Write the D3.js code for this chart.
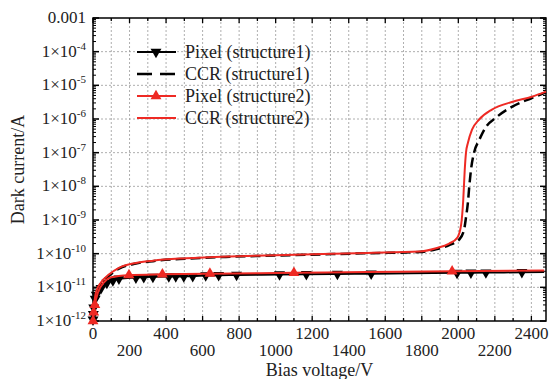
<!DOCTYPE html>
<html>
<head>
<meta charset="utf-8">
<script src="https://cdn.jsdelivr.net/npm/d3@7"></script>
<style>
body { margin: 0; background: #fff; }
svg { display: block; font-family: "Liberation Serif", "Times New Roman", serif; }
</style>
</head>
<body>
<div id="chart-area"></div>
<script>
// Pixel (structure1) - black, down triangles
var pix1V = [0, 2, 4, 12, 18, 44, 76, 109, 142, 235, 278, 328, 415, 453, 497, 546, 617, 688, 786, 1021, 1168, 1338, 1523, 1993, 2069, 2151, 2348, 2470];
var pix1I = [1.1e-12, 1.6e-12, 2.5e-12, 4.5e-12, 6e-12, 9.5e-12, 1.35e-11, 1.6e-11, 1.8e-11, 1.95e-11, 2.0e-11, 2.05e-11, 2.1e-11, 2.1e-11, 2.12e-11, 2.15e-11, 2.25e-11, 2.3e-11, 2.32e-11, 2.4e-11, 2.45e-11, 2.5e-11, 2.55e-11, 2.7e-11, 2.72e-11, 2.75e-11, 2.8e-11, 2.85e-11];

// CCR (structure1) - black dashed
var ccr1V = [0, 5, 16, 44, 87, 142, 235, 328, 508, 750, 1000, 1500, 1785, 1878, 1950, 2004, 2031, 2042, 2053, 2060, 2069, 2086, 2113, 2151, 2206, 2293, 2402, 2480];
var ccr1I = [1e-12, 2.2e-12, 6e-12, 1.3e-11, 2.2e-11, 3.6e-11, 5.1e-11, 6e-11, 7.1e-11, 8.1e-11, 8.8e-11, 1.03e-10, 1.12e-10, 1.35e-10, 1.8e-10, 2.6e-10, 5e-10, 1.2e-9, 3.5e-9, 1e-8, 3e-8, 1e-7, 2.3e-7, 5.8e-7, 1.1e-6, 2.3e-6, 4.2e-6, 6.2e-6];

// Pixel (structure2) - red, up triangles
var pix2V = [0, 4, 10, 27, 60, 100, 197, 380, 640, 1100, 1500, 1966, 2470];
var pix2I = [1e-12, 1.8e-12, 3e-12, 7e-12, 1.4e-11, 2e-11, 2.3e-11, 2.45e-11, 2.55e-11, 2.7e-11, 2.85e-11, 3e-11, 3.15e-11];
var pix2Marks = [0, 4, 10, 197, 380, 640, 1100, 1966];

// CCR (structure2) - red solid
var ccr2V = [0, 5, 16, 44, 87, 142, 235, 328, 508, 750, 1000, 1500, 1785, 1878, 1950, 1995, 2015, 2027, 2035, 2042, 2053, 2075, 2113, 2184, 2293, 2402, 2480];
var ccr2I = [1e-12, 2.5e-12, 7e-12, 1.4e-11, 2.4e-11, 3.8e-11, 5.3e-11, 6.2e-11, 7.3e-11, 8.3e-11, 9e-11, 1.05e-10, 1.15e-10, 1.45e-10, 2e-10, 3e-10, 7e-10, 4e-9, 3e-8, 1e-7, 2e-7, 4.8e-7, 9.5e-7, 1.9e-6, 3.2e-6, 4.6e-6, 6.5e-6];

var xTicks = [0, 200, 400, 600, 800, 1000, 1200, 1400, 1600, 1800, 2000, 2200, 2400];
var yTicks = [1e-12, 1e-11, 1e-10, 1e-9, 1e-8, 1e-7, 1e-6, 1e-5, 1e-4, 1e-3];

var legendNames = ["Pixel (structure1)", "CCR (structure1)", "Pixel (structure2)", "CCR (structure2)"];

var W = 551, H = 379;
var pLeft = 93, pRight = 546, pTop = 18, pBottom = 321;

var svg = d3.select("#chart-area")
    .append("svg")
    .attr("width", W)
    .attr("height", H);

var x = d3.scaleLinear().domain([0, 2480]).range([pLeft, pRight]);
var y = d3.scaleLog().domain([1e-12, 1e-3]).range([pBottom, pTop]);

function zip(vs, is) {
    return vs.map(function(v, i) { return { v: v, i: is[i] }; });
}

// grid
var grid = svg.append("g").attr("stroke", "#999").attr("stroke-width", 0.8).attr("stroke-dasharray", "2,2");
d3.range(100, 2480, 100).forEach(function(v) {
    grid.append("line").attr("x1", x(v)).attr("x2", x(v)).attr("y1", pTop).attr("y2", pBottom);
});
yTicks.slice(1, -1).forEach(function(t) {
    grid.append("line").attr("x1", pLeft).attr("x2", pRight).attr("y1", y(t)).attr("y2", y(t));
});

// frame
svg.append("rect")
    .attr("x", pLeft).attr("y", pTop)
    .attr("width", pRight - pLeft).attr("height", pBottom - pTop)
    .attr("fill", "none").attr("stroke", "#000").attr("stroke-width", 1.5);

// x ticks (inward, bottom and top)
var xt = svg.append("g").attr("stroke", "#000").attr("stroke-width", 1.3);
d3.range(0, 2480, 100).forEach(function(v) {
    var len = v % 200 === 0 ? 5 : 3;
    xt.append("line").attr("x1", x(v)).attr("x2", x(v)).attr("y1", pBottom).attr("y2", pBottom - len);
    xt.append("line").attr("x1", x(v)).attr("x2", x(v)).attr("y1", pTop).attr("y2", pTop + len);
});

// y ticks (inward, left and right) with minor log ticks
var yt = svg.append("g").attr("stroke", "#000");
y.ticks().forEach(function(t) {
    var major = yTicks.some(function(m) { return Math.abs(m - t) / m < 1e-6; });
    var len = major ? 6 : 3;
    yt.append("line").attr("x1", pLeft).attr("x2", pLeft + len).attr("y1", y(t)).attr("y2", y(t)).attr("stroke-width", major ? 1.5 : 1);
    yt.append("line").attr("x1", pRight).attr("x2", pRight - len).attr("y1", y(t)).attr("y2", y(t)).attr("stroke-width", major ? 1.5 : 1);
});

// x tick labels, staggered on two rows
xTicks.forEach(function(v, k) {
    svg.append("text")
        .attr("x", x(v))
        .attr("y", k % 2 === 0 ? 339 : 356)
        .attr("text-anchor", "middle")
        .attr("font-size", "17px")
        .attr("fill", "#222")
        .text(v);
});

// y tick labels
yTicks.forEach(function(t) {
    var e = Math.round(Math.log10(t));
    var lab = svg.append("text")
        .attr("x", 86)
        .attr("y", y(t) + 5)
        .attr("text-anchor", "end")
        .attr("font-size", "17px")
        .attr("fill", "#222");
    if (e === -3) {
        lab.text("0.001");
    } else {
        lab.append("tspan").text("1\u00d710");
        lab.append("tspan").attr("dy", -7).attr("font-size", "11px").text("-" + (-e));
    }
});

// axis titles
svg.append("text")
    .attr("x", (pLeft + pRight) / 2)
    .attr("y", 376)
    .attr("text-anchor", "middle")
    .attr("font-size", "18px")
    .attr("fill", "#222")
    .text("Bias voltage/V");

svg.append("text")
    .attr("transform", "translate(24," + ((pTop + pBottom) / 2) + ") rotate(-90)")
    .attr("text-anchor", "middle")
    .attr("font-size", "18px")
    .attr("fill", "#222")
    .text("Dark current/A");

var line = d3.line()
    .x(function(d) { return x(d.v); })
    .y(function(d) { return y(d.i); })
    .curve(d3.curveMonotoneX);

var plot = svg.append("g");
var tri = d3.symbol().type(d3.symbolTriangle).size(52);

// structure1 pixel
var p1 = zip(pix1V, pix1I);
plot.append("path").datum(p1).attr("d", line).attr("fill", "none").attr("stroke", "#000").attr("stroke-width", 2);
plot.selectAll(".m1").data(p1.slice(0, -1)).enter().append("path")
    .attr("class", "m1")
    .attr("d", tri)
    .attr("transform", function(d) { return "translate(" + x(d.v) + "," + y(d.i) + ") rotate(180)"; })
    .attr("fill", "#000");

// structure1 ccr
plot.append("path").datum(zip(ccr1V, ccr1I)).attr("d", line)
    .attr("fill", "none").attr("stroke", "#000").attr("stroke-width", 2.5).attr("stroke-dasharray", "10,5");

// structure2 pixel
var p2 = zip(pix2V, pix2I);
plot.append("path").datum(p2).attr("d", line).attr("fill", "none").attr("stroke", "#ee2a24").attr("stroke-width", 2);
plot.selectAll(".m2").data(p2.filter(function(d) { return pix2Marks.indexOf(d.v) >= 0; })).enter().append("path")
    .attr("class", "m2")
    .attr("d", tri)
    .attr("transform", function(d) { return "translate(" + x(d.v) + "," + y(d.i) + ")"; })
    .attr("fill", "#ee2a24");

// structure2 ccr
plot.append("path").datum(zip(ccr2V, ccr2I)).attr("d", line)
    .attr("fill", "none").attr("stroke", "#ee2a24").attr("stroke-width", 2);

// legend
var lg = svg.append("g");
legendNames.forEach(function(name, k) {
    var ly = 52 + k * 22;
    var col = k < 2 ? "#000" : "#ee2a24";
    var ln = lg.append("line")
        .attr("x1", 137).attr("x2", 176).attr("y1", ly).attr("y2", ly)
        .attr("stroke", col).attr("stroke-width", k === 1 ? 2.5 : 2);
    if (k === 1) ln.attr("stroke-dasharray", "15,8");
    if (k === 0) {
        lg.append("path").attr("d", tri).attr("fill", col)
            .attr("transform", "translate(156," + ly + ") rotate(180)");
    }
    if (k === 2) {
        lg.append("path").attr("d", tri).attr("fill", col)
            .attr("transform", "translate(156," + ly + ")");
    }
    lg.append("text")
        .attr("x", 185)
        .attr("y", ly + 6)
        .attr("font-size", "18px")
        .attr("fill", "#222")
        .text(name);
});
</script>
</body>
</html>
